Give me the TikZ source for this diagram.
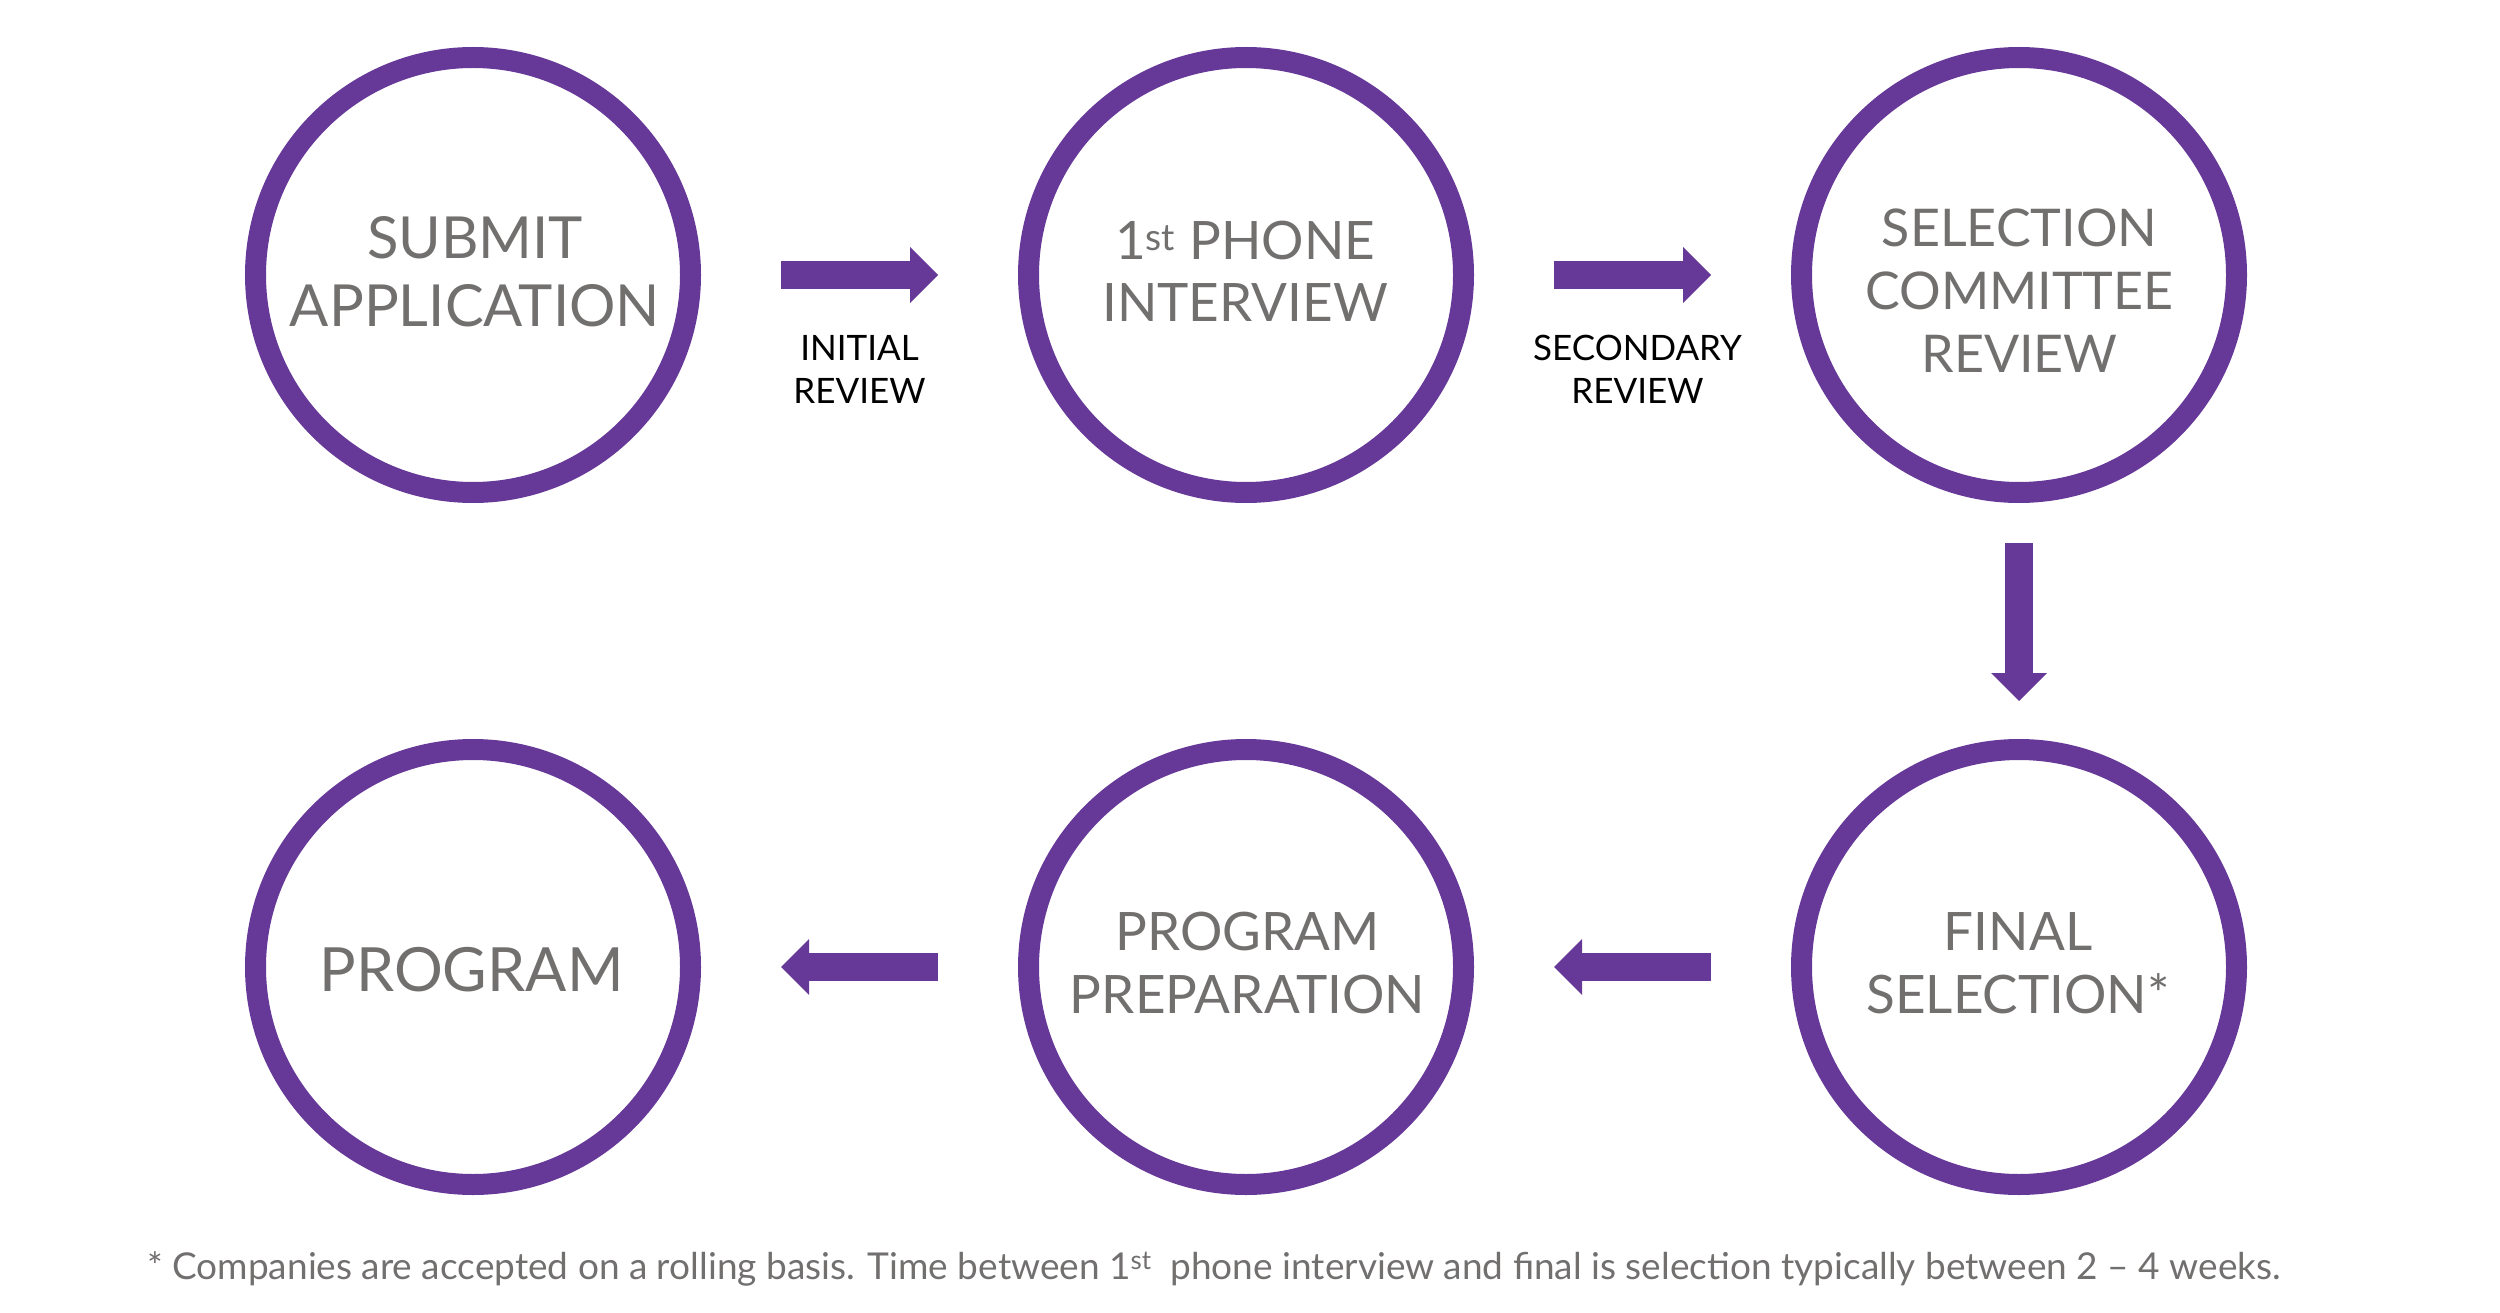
\documentclass[tikz,border=0pt]{standalone}
\usepackage{fontspec}
\setmainfont{Lato}
\usetikzlibrary{arrows.meta}
\definecolor{ringpurple}{RGB}{102,57,153}
\definecolor{txtgray}{RGB}{114,111,111}
\begin{document}
\begin{tikzpicture}[x=1pt,y=-1pt,
  stage/.style={circle, draw=ringpurple, line width=21pt, minimum size=435pt, inner sep=0pt},
  stagetext/.style={text=txtgray, align=center, inner sep=0pt},
  flow/.style={draw=ringpurple, line width=28pt, -{Triangle[width=56pt,length=28pt,line width=0pt]}},
  lbl/.style={text=black, align=center, inner sep=0pt, font=\fontsize{35}{43}\selectfont},
  foot/.style={text=txtgray, inner sep=0pt, font=\fontsize{37}{42}\selectfont}
]
\useasboundingbox (0,0) rectangle (2500,1313);
% circles
\node[stage] (c1) at (473,275) {};
\node[stage] (c2) at (1246,275) {};
\node[stage] (c3) at (2019,275) {};
\node[stage] (c4) at (2019,967) {};
\node[stage] (c5) at (1246,967) {};
\node[stage] (c6) at (473,967) {};
% texts
\node[stagetext, font=\fontsize{58}{68}\selectfont] (t1) at (475,271.5) {SUBMIT\\APPLICATION};
\node[stagetext, font=\fontsize{53}{62}\selectfont] (t2) at (1245,271.5) {1\textsuperscript{st} PHONE\\INTERVIEW};
\node[stagetext, font=\fontsize{52}{63}\selectfont] (t3) at (2019.5,290.5) {SELECTION\\COMMITTEE\\REVIEW};
\node[stagetext, font=\fontsize{53}{63}\selectfont] (t4) at (2018,963.5) {FINAL\\SELECTION*};
\node[stagetext, font=\fontsize{53}{63}\selectfont] (t5) at (1247.5,962.5) {PROGRAM\\PREPARATION};
\node[stagetext, font=\fontsize{61}{70}\selectfont] (t6) at (471.5,970) {PROGRAM};
% arrows
\draw[flow, shorten <=80pt, shorten >=80pt] (c1) -- (c2);
\draw[flow, shorten <=80pt, shorten >=80pt] (c2) -- (c3);
\draw[flow, shorten <=40pt, shorten >=38pt] (c3) -- (c4);
\draw[flow, shorten <=80pt, shorten >=80pt] (c4) -- (c5);
\draw[flow, shorten <=80pt, shorten >=80pt] (c5) -- (c6);
% arrow labels
\node[lbl] (l1) at (859.5,369) {INITIAL\\REVIEW};
\node[lbl] (l2) at (1637.5,369.5) {SECONDARY\\REVIEW};
% footnote
\node[foot, anchor=base west] (note) at (147,1279) {* Companies are accepted on a rolling basis. Time between 1\textsuperscript{st}\ \ phone interview and final is selection typically between 2 -- 4 weeks.};
\end{tikzpicture}
\end{document}
